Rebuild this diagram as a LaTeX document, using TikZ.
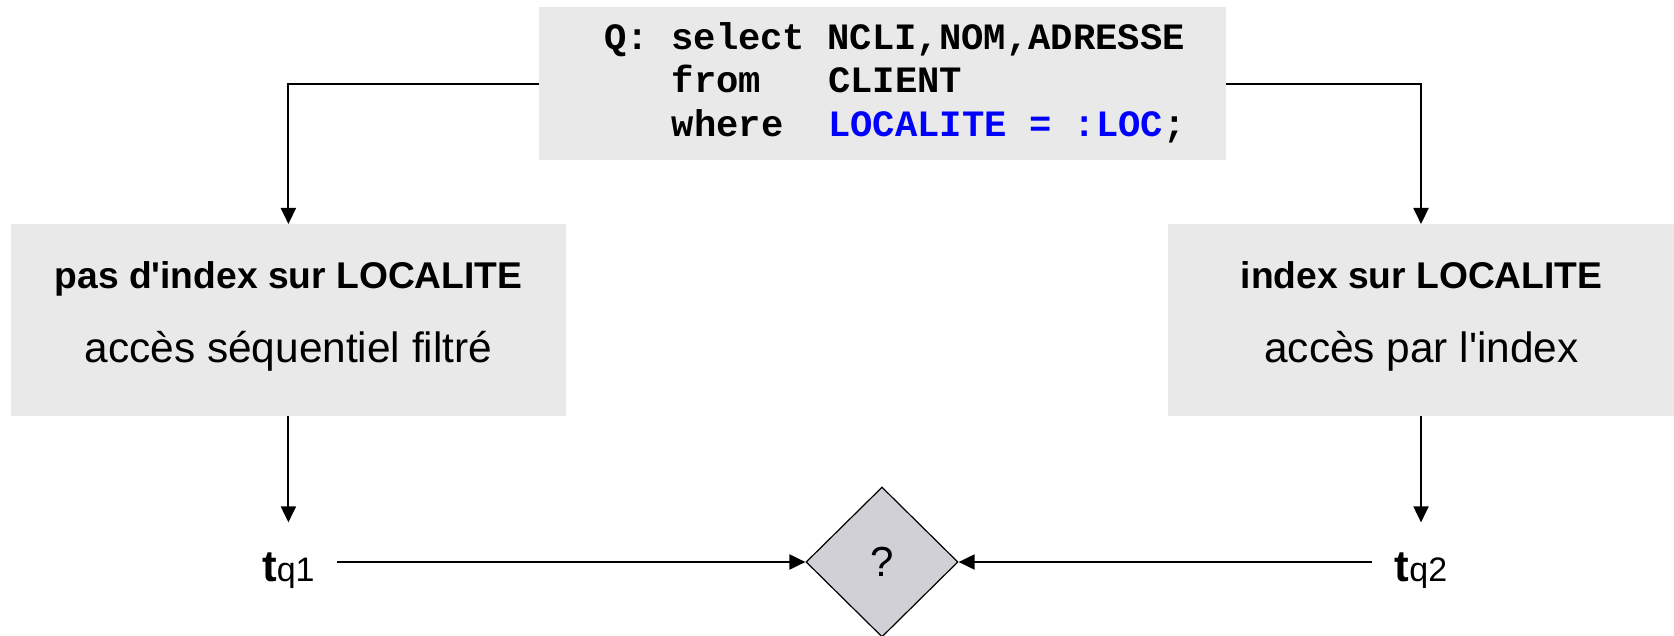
\documentclass[tikz,border=0pt]{standalone}
\usepackage{fontspec}
\setmainfont{Liberation Sans}
\newfontfamily\codefont{Liberation Mono}
\usetikzlibrary{arrows.meta,shapes.geometric}
\definecolor{boxgray}{RGB}{233,233,233}
\definecolor{diagray}{RGB}{208,208,214}
\definecolor{sqlblue}{RGB}{0,0,255}
\tikzset{
  panel/.style={fill=boxgray, draw=none, inner sep=0pt, outer sep=0pt},
  codeline/.style={anchor=base west, inner sep=0pt,
    font=\codefont\bfseries\fontsize{18.6}{18.6}\selectfont},
  headtext/.style={anchor=base, inner sep=0pt,
    font=\bfseries\fontsize{18.6}{18.6}\selectfont},
  bodytext/.style={anchor=base, inner sep=0pt,
    font=\fontsize{21.2}{21.2}\selectfont},
  timelabel/.style={anchor=base, inner xsep=11pt, inner ysep=14.75pt},
  decision/.style={diamond, draw, fill=diagray, line width=0.6pt,
    minimum width=76pt, minimum height=75pt, inner sep=0pt,
    font=\fontsize{21}{21}\selectfont},
  arr/.style={line width=1pt, -{Triangle[length=8pt,width=7.5pt]}},
}
\newcommand{\tlabel}[1]{{\fontsize{22}{22}\selectfont\bfseries t}{\fontsize{17}{17}\selectfont q#1}}
\begin{document}
\begin{tikzpicture}[x=0.5pt,y=-0.5pt]
  \useasboundingbox (0,0) rectangle (1674,636);

  % query box
  \node[panel, minimum width=343.5pt, minimum height=76.5pt] (query) at (882.5,84) {};
  \node[codeline] (q1) at (604,49.5) {Q:\ select\ NCLI,NOM,ADRESSE};
  \node[codeline] (q2) at (671.5,93) {from\ \ \ CLIENT};
  \node[codeline] (q3) at (671.5,137) {where\ \ \textcolor{sqlblue}{LOCALITE\ =\ :LOC};};

  % access strategies
  \node[panel, minimum width=277.6pt, minimum height=96pt] (noidx) at (288.4,320) {};
  \node[headtext] (noidxh) at (288.5,288) {pas d\textquotesingle index sur LOCALITE};
  \node[bodytext] (noidxb) at (288.5,362) {accès séquentiel filtré};

  \node[panel, minimum width=253pt, minimum height=96pt] (idx) at (1421,320) {};
  \node[headtext] (idxh) at (1421.5,288) {index sur LOCALITE};
  \node[bodytext] (idxb) at (1421.5,362) {accès par l\textquotesingle index};

  % costs and comparison
  \node[timelabel] (t1) at (288.4,581) {\tlabel{1}};
  \node[timelabel] (t2) at (1421,581) {\tlabel{2}};
  \node[decision] (cmp) at (882,562) {?};

  % connectors
  \draw[arr] (query.west) -| (noidx.north);
  \draw[arr] (query.east) -| (idx.north);
  \draw[arr] (noidx.south) -- (t1.north);
  \draw[arr] (idx.south) -- (t2.north);
  \draw[arr] (t1.east |- cmp.west) -- (cmp.west);
  \draw[arr] (t2.west |- cmp.east) -- (cmp.east);
\end{tikzpicture}
\end{document}
